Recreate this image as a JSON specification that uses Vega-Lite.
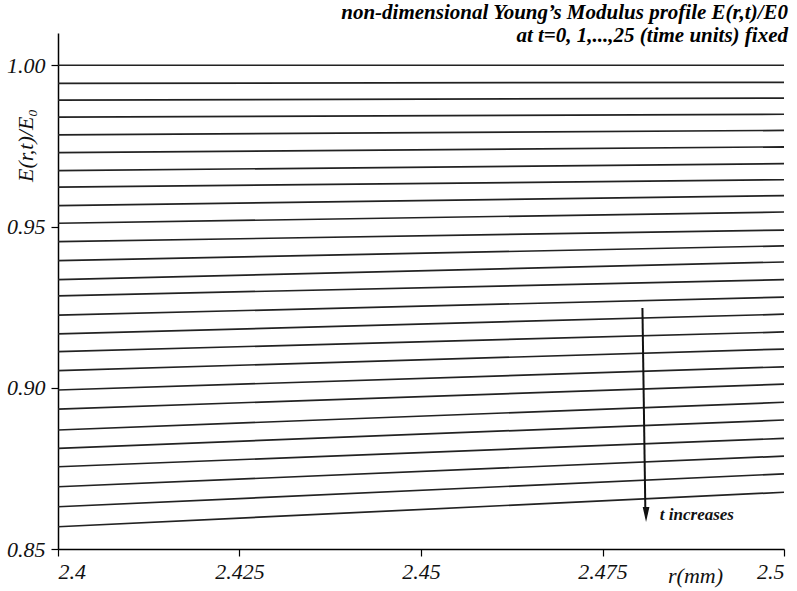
{
  "$schema": "https://vega.github.io/schema/vega-lite/v6.json",
  "width": 726,
  "height": 516,
  "autosize": {"type": "none"},
  "padding": {"left": 58, "top": 33, "right": 13, "bottom": 42},
  "background": "white",
  "config": {"view": {"stroke": null}},
  "title": {
    "text": ["non-dimensional Young’s Modulus profile E(r,t)/E0", "at t=0, 1,...,25 (time units) fixed"],
    "anchor": "end",
    "frame": "group",
    "orient": "top",
    "baseline": "alphabetic",
    "offset": 13,
    "dy": 43,
    "font": "Liberation Serif, Times New Roman, serif",
    "fontSize": 21,
    "fontWeight": "bold",
    "fontStyle": "italic",
    "lineHeight": 23,
    "color": "#000",
    "dx": 4
  },
  "layer": [
    {
      "data": {"values": [
        {"t":0,"r":2.4,"E":1.0},{"t":0,"r":2.5,"E":1.0},
        {"t":1,"r":2.4,"E":0.9944},{"t":1,"r":2.5,"E":0.9947},
        {"t":2,"r":2.4,"E":0.9892},{"t":2,"r":2.5,"E":0.9898},
        {"t":3,"r":2.4,"E":0.9839},{"t":3,"r":2.5,"E":0.9848},
        {"t":4,"r":2.4,"E":0.9784},{"t":4,"r":2.5,"E":0.9798},
        {"t":5,"r":2.4,"E":0.9729},{"t":5,"r":2.5,"E":0.9747},
        {"t":6,"r":2.4,"E":0.9673},{"t":6,"r":2.5,"E":0.9695},
        {"t":7,"r":2.4,"E":0.9622},{"t":7,"r":2.5,"E":0.9645},
        {"t":8,"r":2.4,"E":0.9565},{"t":8,"r":2.5,"E":0.9596},
        {"t":9,"r":2.4,"E":0.9510},{"t":9,"r":2.5,"E":0.9545},
        {"t":10,"r":2.4,"E":0.9453},{"t":10,"r":2.5,"E":0.9489},
        {"t":11,"r":2.4,"E":0.9394},{"t":11,"r":2.5,"E":0.9440},
        {"t":12,"r":2.4,"E":0.9335},{"t":12,"r":2.5,"E":0.9390},
        {"t":13,"r":2.4,"E":0.9285},{"t":13,"r":2.5,"E":0.9335},
        {"t":14,"r":2.4,"E":0.9225},{"t":14,"r":2.5,"E":0.9281},
        {"t":15,"r":2.4,"E":0.9167},{"t":15,"r":2.5,"E":0.9228},
        {"t":16,"r":2.4,"E":0.9112},{"t":16,"r":2.5,"E":0.9173},
        {"t":17,"r":2.4,"E":0.9053},{"t":17,"r":2.5,"E":0.9120},
        {"t":18,"r":2.4,"E":0.8993},{"t":18,"r":2.5,"E":0.9065},
        {"t":19,"r":2.4,"E":0.8934},{"t":19,"r":2.5,"E":0.9011},
        {"t":20,"r":2.4,"E":0.8869},{"t":20,"r":2.5,"E":0.8955},
        {"t":21,"r":2.4,"E":0.8812},{"t":21,"r":2.5,"E":0.8900},
        {"t":22,"r":2.4,"E":0.8755},{"t":22,"r":2.5,"E":0.8843},
        {"t":23,"r":2.4,"E":0.8693},{"t":23,"r":2.5,"E":0.8788},
        {"t":24,"r":2.4,"E":0.8631},{"t":24,"r":2.5,"E":0.8733},
        {"t":25,"r":2.4,"E":0.8569},{"t":25,"r":2.5,"E":0.8676}
      ]},
      "mark": {"type": "line", "color": "#222", "strokeWidth": 1.7},
      "encoding": {
        "x": {
          "field": "r", "type": "quantitative",
          "scale": {"domain": [2.4, 2.5], "nice": false, "zero": false},
          "axis": {
            "values": [2.4, 2.425, 2.45, 2.475, 2.5],
            "format": "~g",
            "grid": false,
            "domainColor": "#000",
            "domainWidth": 1.5,
            "tickColor": "#000",
            "tickWidth": 1.2,
            "tickSize": 7,
            "labelFont": "Liberation Serif, Times New Roman, serif",
            "labelFontStyle": "italic",
            "labelFontSize": 22,
            "labelColor": "#111",
            "labelPadding": 5,
            "title": "r(mm)",
            "titleFont": "Liberation Serif, Times New Roman, serif",
            "titleFontStyle": "italic",
            "titleFontWeight": "normal",
            "titleFontSize": 22,
            "titleColor": "#111",
            "titleX": 637,
            "titleY": 26,
            "titleAlign": "center",
            "titleBaseline": "middle"
          }
        },
        "y": {
          "field": "E", "type": "quantitative",
          "scale": {"domain": [0.85, 1.01], "nice": false, "zero": false},
          "axis": {
            "values": [0.85, 0.9, 0.95, 1.0],
            "format": ".2f",
            "grid": false,
            "domainColor": "#000",
            "domainWidth": 1.5,
            "tickColor": "#000",
            "tickWidth": 1.2,
            "tickSize": 7,
            "labelFont": "Liberation Serif, Times New Roman, serif",
            "labelFontStyle": "italic",
            "labelFontSize": 22,
            "labelColor": "#111",
            "labelPadding": 6,
            "title": "E(r,t)/E₀",
            "titleFont": "Liberation Serif, Times New Roman, serif",
            "titleFontStyle": "italic",
            "titleFontWeight": "normal",
            "titleFontSize": 22,
            "titleColor": "#111",
            "titleAngle": -90,
            "titleX": -33,
            "titleY": 112,
            "titleAlign": "center",
            "titleBaseline": "middle"
          }
        },
        "detail": {"field": "t", "type": "nominal"}
      }
    },
    {
      "data": {"values": [{"r": 2.4805, "E": 0.9247, "r2": 2.4809, "E2": 0.8625}]},
      "mark": {"type": "rule", "color": "#111", "strokeWidth": 2},
      "encoding": {
        "x": {"field": "r", "type": "quantitative"},
        "y": {"field": "E", "type": "quantitative"},
        "x2": {"field": "r2"},
        "y2": {"field": "E2"}
      }
    },
    {
      "data": {"values": [{"r": 2.481, "E": 0.8607}]},
      "mark": {"type": "point", "shape": "M-0.45,-1L0.45,-1L0,1Z", "size": 225, "filled": true, "color": "#111", "opacity": 1},
      "encoding": {
        "x": {"field": "r", "type": "quantitative"},
        "y": {"field": "E", "type": "quantitative"}
      }
    },
    {
      "data": {"values": [{"r": 2.4829, "E": 0.8605, "label": "t increases"}]},
      "mark": {"type": "text", "align": "left", "baseline": "middle", "font": "Liberation Serif, Times New Roman, serif", "fontSize": 17, "fontWeight": "bold", "fontStyle": "italic", "color": "#111"},
      "encoding": {
        "x": {"field": "r", "type": "quantitative"},
        "y": {"field": "E", "type": "quantitative"},
        "text": {"field": "label"}
      }
    }
  ]
}
